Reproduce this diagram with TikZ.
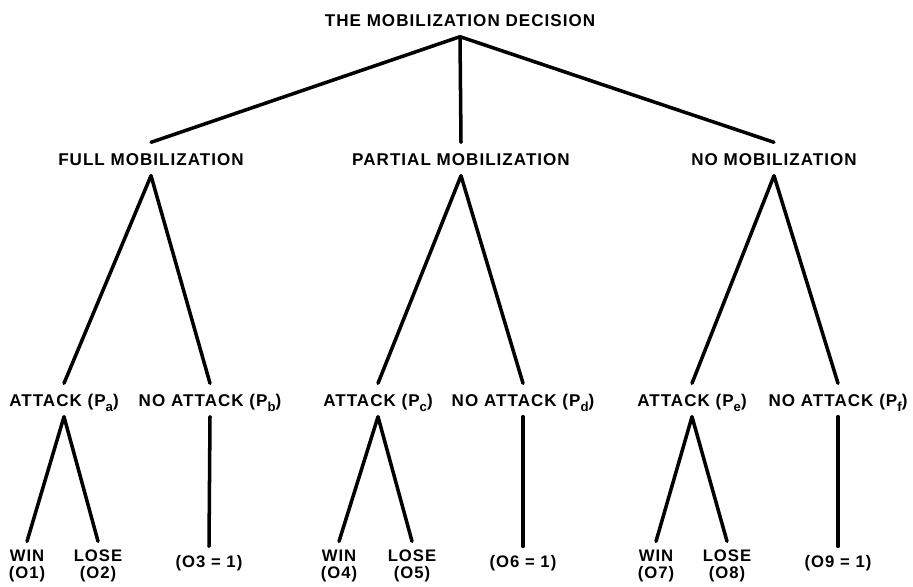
\documentclass[tikz,border=0pt]{standalone}
\usepackage{fontspec}
\setmainfont[LetterSpace=6]{Liberation Sans}
\usetikzlibrary{arrows}
\tikzstyle{branch} = [draw, line width=2pt, line cap=round, line join=round]
\tikzstyle{stage} = [font=\bfseries\fontsize{9.7}{11}\selectfont, inner sep=0pt, text height=7pt, text depth=0pt, outer sep=6pt]
\tikzstyle{outcome} = [font=\bfseries\fontsize{9.5}{9.5}\selectfont, align=center, inner sep=0pt, outer sep=5pt]
\newcommand{\prob}[1]{(P\raisebox{-0.3em}{\fontsize{7.5}{8}\selectfont #1})}

\begin{document}
\begin{tikzpicture}[x=0.02cm,y=-0.02cm]
		\useasboundingbox (0,0) rectangle (913,587);
		% decision and the three postures
		\node[stage] (top) at (460,20) {THE MOBILIZATION DECISION};
		\node[stage] (full) at (151,159) {FULL MOBILIZATION};
		\node[stage] (part) at (461,159) {PARTIAL MOBILIZATION};
		\node[stage] (none) at (774,159) {NO MOBILIZATION};
		% enemy reactions
		\node[stage] (atka) at (64,400) {ATTACK \prob{a}};
		\node[stage] (noatkb) at (210,400) {NO ATTACK \prob{b}};
		\node[stage] (atkc) at (378,400) {ATTACK \prob{c}};
		\node[stage] (noatkd) at (523,400) {NO ATTACK \prob{d}};
		\node[stage] (atke) at (692,400) {ATTACK \prob{e}};
		\node[stage] (noatkf) at (838,400) {NO ATTACK \prob{f}};
		% outcomes
		\node[outcome] (o1) at (27,566) {WIN\\(O1)};
		\node[outcome] (o2) at (98,566) {LOSE\\(O2)};
		\node[outcome] (o3) at (209,563) {(O3 = 1)};
		\node[outcome] (o4) at (339,566) {WIN\\(O4)};
		\node[outcome] (o5) at (412,566) {LOSE\\(O5)};
		\node[outcome] (o6) at (523,563) {(O6 = 1)};
		\node[outcome] (o7) at (656,566) {WIN\\(O7)};
		\node[outcome] (o8) at (727,566) {LOSE\\(O8)};
		\node[outcome] (o9) at (838,563) {(O9 = 1)};
		% branches
		\draw[branch] (full.north) -- (top.south) -- (none.north);
		\draw[branch] (top.south) -- (part.north);
		\draw[branch] (atka.north) -- (full.south) -- (noatkb.north);
		\draw[branch] (atkc.north) -- (part.south) -- (noatkd.north);
		\draw[branch] (atke.north) -- (none.south) -- (noatkf.north);
		\draw[branch] (o1.north) -- (atka.south) -- (o2.north);
		\draw[branch] (o4.north) -- (atkc.south) -- (o5.north);
		\draw[branch] (o7.north) -- (atke.south) -- (o8.north);
		\draw[branch] (noatkb.south) -- (o3.north);
		\draw[branch] (noatkd.south) -- (o6.north);
		\draw[branch] (noatkf.south) -- (o9.north);
	\end{tikzpicture}
\end{document}
